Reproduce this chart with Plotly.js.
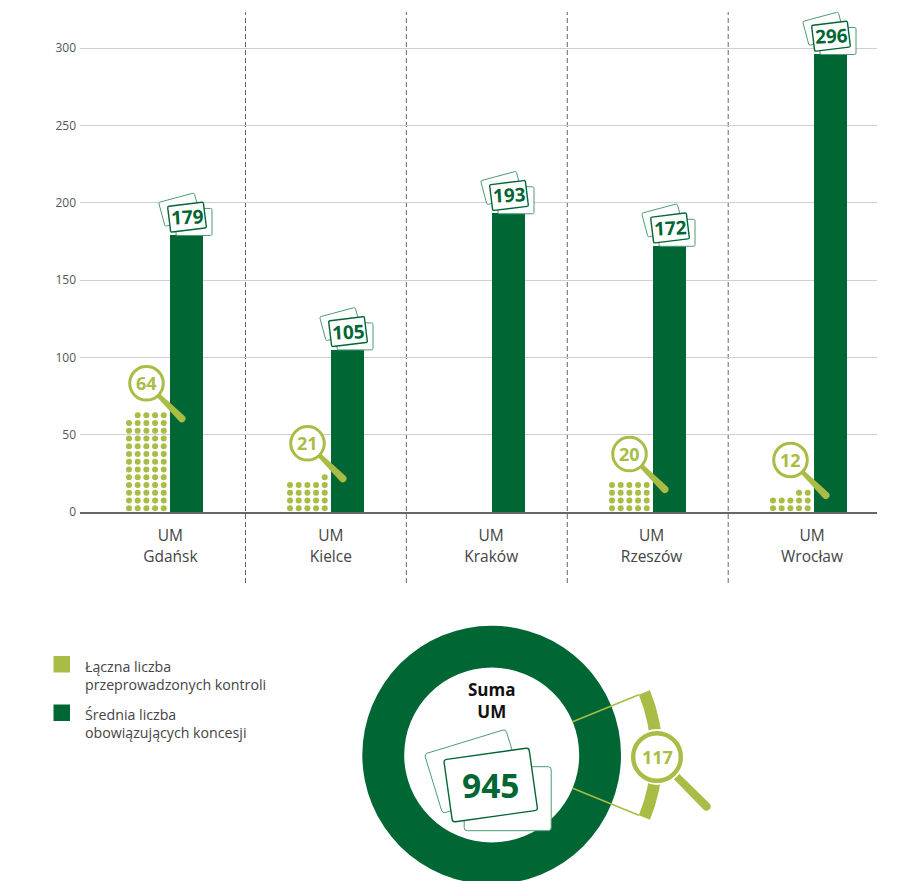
<!DOCTYPE html>
<html>
<head>
<meta charset="utf-8">
<script src="https://cdn.plot.ly/plotly-3.0.1.min.js"></script>
<style>html,body{margin:0;padding:0;overflow:hidden;background:#fff}</style>
</head>
<body>
<div id="chart"></div>
<script>
// Data
const offices = ['UM<br>Gdańsk', 'UM<br>Kielce', 'UM<br>Kraków', 'UM<br>Rzeszów', 'UM<br>Wrocław'];
const concessions = [179, 105, 193, 172, 296];
const inspections = [64, 21, null, 20, 12];
const totalConcessions = 945;
const totalInspections = 117;
const inspectionsName = 'Łączna liczba<br>przeprowadzonych kontroli';
const concessionsName = 'Średnia liczba<br>obowiązujących koncesji';

// Page geometry and palette
const W = 919, H = 930;
const DARK = '#006633', OLIVE = '#a9bc45', CARD_BACK = '#4f9a75', TEXT = '#444444';
const FONT = '"Open Sans", sans-serif';
const plotLeft = 80, plotRight = 877, plotTop = 12, plotBottom = 512;
const slotWidth = 161, firstSlot = 169.5;
const pxPerUnit = 464 / 300;
const px = d => d / slotWidth;
const barOffset = px(17);
const labelPositions = offices.map((_, i) => px(170.4 + 160.4 * i - firstSlot));
const separatorPositions = offices.slice(1).map((_, i) => px(245.5 + 160.9 * i - firstSlot));
const rowsStep = 5, columns = 5, columnStep = px(8.68), firstColumn = px(-40.5);
const lensLift = [29.7, 36.2, 0, 27, 33.4];
const lensShift = -23;
const ringCentre = {x: 491.7, y: 755}, ringOuter = 129.3, ringInner = 87.5, arcInner = 159, arcOuter = 171;
const paperX = v => v / W, paperY = v => 1 - v / H;

// Dot columns: one dot per inspection, full rows first, remainder right-aligned on top
const dotX = [], dotY = [];
inspections.forEach((n, i) => {
  if (n == null) return;
  const full = Math.floor(n / columns), extra = n % columns;
  for (let r = 0; r < full; r++) for (let c = 0; c < columns; c++) {
    dotX.push(i + firstColumn + c * columnStep); dotY.push((r + 0.5) * rowsStep);
  }
  for (let c = columns - extra; c < columns; c++) {
    dotX.push(i + firstColumn + c * columnStep); dotY.push((full + 0.5) * rowsStep);
  }
});

// Rounded, rotated rectangle as a path in pixels around the shape's anchor (y up)
function cardPath(cx, cy, w, h, deg, r) {
  const a = deg * Math.PI / 180, cos = Math.cos(a), sin = Math.sin(a);
  const pt = (x, y) => {
    const sx = cx + x * cos - y * sin, sy = cy + x * sin + y * cos;
    return sx.toFixed(2) + ',' + (-sy).toFixed(2);
  };
  const hw = w / 2, hh = h / 2;
  return 'M' + pt(-hw + r, -hh) + ' L' + pt(hw - r, -hh) + ' Q' + pt(hw, -hh) + ' ' + pt(hw, -hh + r) +
    ' L' + pt(hw, hh - r) + ' Q' + pt(hw, hh) + ' ' + pt(hw - r, hh) +
    ' L' + pt(-hw + r, hh) + ' Q' + pt(-hw, hh) + ' ' + pt(-hw, hh - r) +
    ' L' + pt(-hw, -hh + r) + ' Q' + pt(-hw, -hh) + ' ' + pt(-hw + r, -hh) + ' Z';
}

// Pixel-sized shape pinned to an anchor on the given axes
function pinned(xref, xanchor, yref, yanchor, props) {
  return Object.assign({xref, yref, xsizemode: 'pixel', ysizemode: 'pixel', xanchor, yanchor, layer: 'above'}, props);
}

function cardStack(xref, xa, yref, ya, cards) {
  return cards.map((c, k) => pinned(xref, xa, yref, ya, {
    type: 'path', path: cardPath(c[0], c[1], c[2], c[3], c[4], c[5]),
    fillcolor: '#ffffff', line: {color: k < 2 ? CARD_BACK : DARK, width: k < 2 ? 1 : 1.4}
  }));
}

// Magnifier: lens ring plus a handle that widens and ends in a round tip
function magnifier(xref, xa, yref, ya, cx, cy, r, ringW, reach, startW, endW, halo) {
  const out = [];
  const u = Math.SQRT1_2;
  const sx = cx + (r - 1) * u, sy = cy + (r - 1) * u, ex = cx + reach * u, ey = cy + reach * u;
  const p = (x, y) => x.toFixed(2) + ',' + (-y).toFixed(2);
  const handle = 'M' + p(sx + u * startW / 2, sy - u * startW / 2) + ' L' + p(ex + u * endW / 2, ey - u * endW / 2) +
    ' C' + p(ex + u * endW / 2 + u * endW * 0.66, ey - u * endW / 2 + u * endW * 0.66) + ' ' +
    p(ex - u * endW / 2 + u * endW * 0.66, ey + u * endW / 2 + u * endW * 0.66) + ' ' +
    p(ex - u * endW / 2, ey + u * endW / 2) +
    ' L' + p(sx - u * startW / 2, sy + u * startW / 2) + ' Z';
  out.push(pinned(xref, xa, yref, ya, {type: 'path', path: handle, fillcolor: OLIVE, line: {width: 0}}));
  const circle = (rad, fill, line) => pinned(xref, xa, yref, ya, {
    type: 'circle', x0: cx - rad, x1: cx + rad, y0: -cy - rad, y1: -cy + rad, fillcolor: fill, line
  });
  if (halo) out.push(circle(r + halo, '#ffffff', {width: 0}));
  out.push(circle(r - ringW / 2, '#ffffff', {color: OLIVE, width: ringW}));
  return out;
}

const smallCards = [
  [-7.4, -7.5, 36.8, 24.8, -15, 1.5],
  [7, 4.8, 36, 27, 0, 1.5],
  [0, 0, 36, 26, -7, 1.5]
];
const bigCards = [
  [-16.6, -13.7, 85, 62, -17, 3],
  [17, 13.7, 87, 64, 0, 3],
  [0, 0, 86, 63, -8, 3]
];

const shapes = [], annotations = [];

// Dashed separators between offices
separatorPositions.forEach(x => shapes.push({
  type: 'line', xref: 'x', yref: 'paper', x0: x, x1: x,
  y0: paperY(583), y1: paperY(plotTop), line: {color: '#666666', width: 1, dash: '5px,3px'}, layer: 'below'
}));

// Card with the value on top of each concession bar
concessions.forEach((v, i) => {
  const xa = i + barOffset;
  shapes.push(...cardStack('x', xa, 'y', v, smallCards.map(c => [c[0] + 0.5, c[1] - 18, c[2], c[3], c[4], c[5]])));
  annotations.push({
    xref: 'x', yref: 'y', x: xa, y: v, xshift: 0.5, yshift: 18, text: '<b>' + v + '</b>', showarrow: false,
    textangle: -3, font: {family: FONT, size: 19, color: DARK}, xanchor: 'center', yanchor: 'middle'
  });
});

// Magnifier with the inspection count above each dot column
inspections.forEach((n, i) => {
  if (n == null) return;
  const lift = lensLift[i];
  shapes.push(...magnifier('x', i, 'y', n, lensShift, -lift, 18.3, 3, 50, 4.5, 7.5, 0));
  annotations.push({
    xref: 'x', yref: 'y', x: i, y: n, xshift: lensShift, yshift: lift, text: '<b>' + n + '</b>', showarrow: false,
    font: {family: FONT, size: 18, color: OLIVE}, xanchor: 'center', yanchor: 'middle'
  });
});

// Legend
[[inspectionsName, OLIVE, 656, 675], [concessionsName, DARK, 704.5, 723]].forEach(item => {
  shapes.push({
    type: 'rect', xref: 'paper', yref: 'paper', x0: paperX(53.5), x1: paperX(70),
    y0: paperY(item[2] + 16.5), y1: paperY(item[2]), fillcolor: item[1], line: {width: 0}
  });
  annotations.push({
    xref: 'paper', yref: 'paper', x: paperX(83), y: paperY(item[3]), text: item[0], showarrow: false, align: 'left',
    font: {family: FONT, size: 14.2, color: TEXT}, xanchor: 'left', yanchor: 'middle'
  });
});

// Summary ring: radial guides out to the inspected share, cards and captions
const halfAngle = totalInspections / totalConcessions * Math.PI;
[-1, 1].forEach(side => {
  const c = Math.cos(halfAngle), s = Math.sin(halfAngle) * side;
  shapes.push({
    type: 'line', xref: 'paper', yref: 'paper', layer: 'above',
    x0: paperX(ringCentre.x + ringInner * c), y0: paperY(ringCentre.y + ringInner * s),
    x1: paperX(ringCentre.x + arcInner * c), y1: paperY(ringCentre.y + arcInner * s),
    line: {color: OLIVE, width: 1.6}
  });
});
const ringXa = paperX(ringCentre.x - 1), ringYa = paperY(ringCentre.y + 30);
shapes.push(...cardStack('paper', ringXa, 'paper', ringYa, bigCards));
shapes.push(...magnifier('paper', paperX(657), 'paper', paperY(757), 0, 0, 26, 4.4, 70, 7.5, 8.5, 2));
annotations.push(
  {xref: 'paper', yref: 'paper', x: ringXa, y: ringYa, text: '<b>' + totalConcessions + '</b>', showarrow: false,
   font: {family: FONT, size: 33.5, color: DARK}, xanchor: 'center', yanchor: 'middle'},
  {xref: 'paper', yref: 'paper', x: paperX(657), y: paperY(757), text: '<b>' + totalInspections + '</b>', showarrow: false,
   font: {family: FONT, size: 18, color: OLIVE}, xanchor: 'center', yanchor: 'middle'},
  {xref: 'paper', yref: 'paper', x: paperX(492), y: paperY(700.5), text: '<b>Suma<br>UM</b>', showarrow: false,
   font: {family: FONT, size: 17, color: '#111111'}, xanchor: 'center', yanchor: 'middle'}
);

const pieDomain = r => ({
  x: [paperX(ringCentre.x - r), paperX(ringCentre.x + r)],
  y: [paperY(ringCentre.y + r), paperY(ringCentre.y - r)]
});

const traces = [
  {type: 'bar', name: concessionsName, x: offices.map((_, i) => i + barOffset), y: concessions,
   width: px(33), marker: {color: DARK, line: {width: 0}}, hoverinfo: 'y'},
  {type: 'scatter', mode: 'markers', name: inspectionsName, x: dotX, y: dotY,
   marker: {color: OLIVE, size: 6, line: {width: 0}}, hoverinfo: 'skip'},
  {type: 'pie', values: [totalConcessions], labels: ['Suma UM'], domain: pieDomain(ringOuter),
   hole: ringInner / ringOuter, marker: {colors: [DARK], line: {width: 0}}, textinfo: 'none', hoverinfo: 'skip', sort: false},
  {type: 'pie', values: [totalInspections, totalConcessions - totalInspections], labels: ['Kontrole', 'Pozostałe'],
   domain: pieDomain(arcOuter), hole: arcInner / arcOuter, sort: false, direction: 'clockwise',
   rotation: 90 - totalInspections / totalConcessions * 180,
   marker: {colors: [OLIVE, 'rgba(0,0,0,0)'], line: {width: 0}}, textinfo: 'none', hoverinfo: 'skip'}
];

const layout = {
  width: W, height: H, margin: {l: 0, r: 0, t: 0, b: 0, pad: 0},
  paper_bgcolor: '#ffffff', plot_bgcolor: '#ffffff', showlegend: false, bargap: 0,
  font: {family: FONT, color: TEXT},
  xaxis: {
    domain: [paperX(plotLeft), paperX(plotRight)],
    range: [(plotLeft - firstSlot) / slotWidth, (plotRight - firstSlot) / slotWidth],
    tickmode: 'array', tickvals: labelPositions, ticktext: offices,
    ticks: '', showgrid: false, zeroline: false, showline: true, linecolor: '#666666', linewidth: 1.5,
    tickfont: {family: FONT, size: 15.5, color: TEXT}, ticklabelstandoff: 9
  },
  yaxis: {
    domain: [paperY(plotBottom), paperY(plotTop)],
    range: [0, (plotBottom - plotTop) / pxPerUnit],
    tickmode: 'array', tickvals: [0, 50, 100, 150, 200, 250, 300],
    ticks: '', showgrid: true, gridcolor: '#cfcfcf', gridwidth: 1, zeroline: false, showline: false,
    tickfont: {family: FONT, size: 12, color: '#555555'}, ticklabelstandoff: 3
  },
  shapes, annotations
};

Plotly.newPlot('chart', traces, layout, {displayModeBar: false, responsive: false});
</script>
</body>
</html>
